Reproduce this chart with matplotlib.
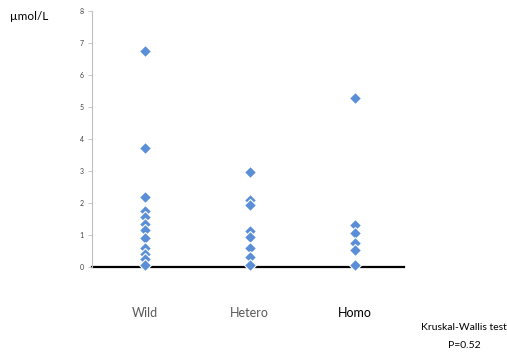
import matplotlib

matplotlib.use("Agg")
import matplotlib.pyplot as plt

plt.rcParams.update({"font.family": ["Lato", "DejaVu Sans"]})

groups = ["Wild", "Hetero", "Homo"]
wild = [6.75, 3.72, 2.18, 1.76, 1.56, 1.34, 1.16, 0.92, 0.59, 0.41, 0.24, 0.06]
hetero = [2.97, 2.10, 1.94, 1.12, 0.94, 0.60, 0.31, 0.05]
homo = [5.28, 1.31, 1.06, 0.75, 0.53, 0.05]
values = [wild, hetero, homo]

fig = plt.figure(figsize=(5.07, 3.52), dpi=100)
ax = fig.add_axes([92 / 507, 85 / 352, 312 / 507, 256 / 352])

ax.axhline(0, color="black", lw=1.6, zorder=1, clip_on=False)
for i, vals in enumerate(values, start=1):
    ax.plot([i] * len(vals), vals, linestyle="none", marker="D", markersize=6,
            markerfacecolor="#5a8fd8", markeredgecolor="white", markeredgewidth=0.8,
            zorder=3, clip_on=False)

ax.set_xlim(0.5, 3.47)
ax.set_ylim(0, 8)
ax.set_yticks(range(0, 9))
ax.tick_params(axis="y", labelsize=5, length=3, width=0.6, color="#bfbfbf",
               labelcolor="#404040", pad=3)
ax.set_xticks([])
for s in ["top", "right", "bottom"]:
    ax.spines[s].set_visible(False)
ax.spines["left"].set_color("#bfbfbf")
ax.spines["left"].set_linewidth(0.8)

label_colors = ["#595959", "#595959", "black"]
for i, (g, c) in enumerate(zip(groups, label_colors), start=1):
    ax.text(i, -1.45, g, ha="center", va="center", fontsize=9, color=c,
            clip_on=False)

fig.text(10 / 507, 1 - 17 / 352, "µmol/L", ha="left", va="center", fontsize=8.5)
fig.text(464 / 507, 1 - 328 / 352, "Kruskal-Wallis test", ha="center", va="center",
         fontsize=7.5)
fig.text(464 / 507, 1 - 346 / 352, "P=0.52", ha="center", va="center", fontsize=7.5)

fig.savefig("out.png", dpi=100)
plt.close()
